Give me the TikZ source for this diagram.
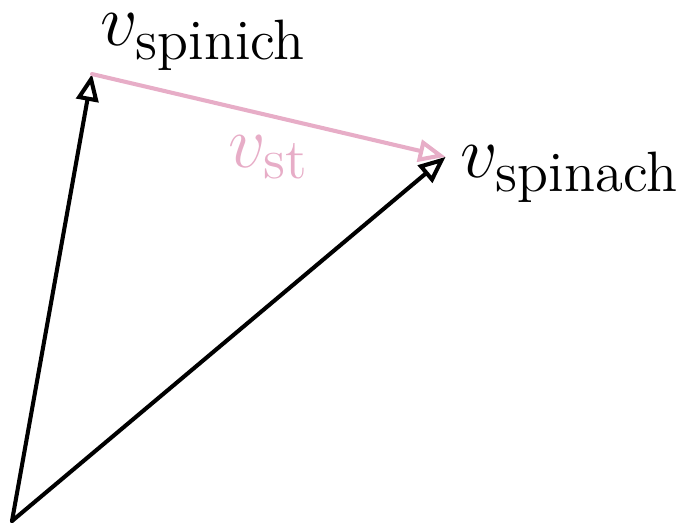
\documentclass[tikz,border=0pt]{standalone}
\usepackage{amsmath}
\usepackage{xcolor}
\usepackage{tikz}
\usetikzlibrary{arrows.meta,positioning,calc}
\definecolor{softpink}{RGB}{231,173,199}

\begin{document}
\begin{tikzpicture}[
  vec/.style={-{Triangle[open,length=6.3pt,width=5.2pt]},line width=0.95pt,line cap=round},
  lab/.style={font=\fontsize{19}{23}\selectfont,inner sep=0pt}
]
\useasboundingbox (-0.0985,-0.0082) rectangle (5.567,4.278);
\coordinate (o) at (0,0);
\coordinate (spinich) at (0.657,3.67);
\coordinate (spinach) at (3.56,2.99);
\draw[vec] (o) -- (spinich);
\draw[vec] (o) -- (spinach);
\draw[vec,softpink] (spinich) -- (spinach);
\node[lab,anchor=base west] (lspinich) at (0.722,3.908) {$v_{\text{spinich}}$};
\node[lab,anchor=base west] (lspinach) at (3.678,2.824) {$v_{\text{spinach}}$};
\node[lab,anchor=base west,text=softpink] (lst) at (1.773,2.906) {$v_{\text{st}}$};
\end{tikzpicture}
\end{document}
